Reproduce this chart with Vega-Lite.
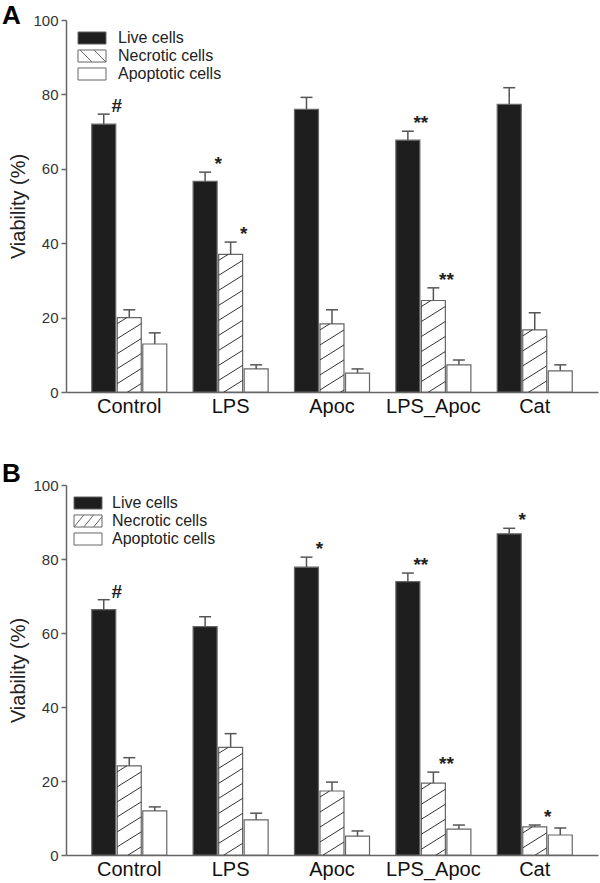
{
  "$schema": "https://vega.github.io/schema/vega-lite/v6.json",
  "background": "white",
  "padding": {"left": 2, "top": 3, "right": 2, "bottom": 5},
  "config": {
    "view": {"stroke": null},
    "font": "Liberation Sans",
    "axis": {"grid": false, "domainColor": "#666", "domainWidth": 1.5, "tickColor": "#666", "tickWidth": 1.5},
    "legend": {"padding": 0, "labelFontSize": 16, "labelColor": "#222", "labelFont": "Liberation Sans", "symbolStrokeColor": "#666", "symbolStrokeWidth": 1, "rowPadding": 0}
  },
  "resolve": {"scale": {"fill": "independent"}, "legend": {"fill": "independent"}},
  "data": {"values": [
    {"panel": "A", "group": "Control", "type": "Live cells", "value": 72.0, "err": 74.7, "sig": "#"},
    {"panel": "A", "group": "Control", "type": "Necrotic cells", "value": 20.0, "err": 22.1, "sig": ""},
    {"panel": "A", "group": "Control", "type": "Apoptotic cells", "value": 12.9, "err": 15.9, "sig": ""},
    {"panel": "A", "group": "LPS", "type": "Live cells", "value": 56.6, "err": 59.1, "sig": "*"},
    {"panel": "A", "group": "LPS", "type": "Necrotic cells", "value": 37.0, "err": 40.3, "sig": "*"},
    {"panel": "A", "group": "LPS", "type": "Apoptotic cells", "value": 6.2, "err": 7.3, "sig": ""},
    {"panel": "A", "group": "Apoc", "type": "Live cells", "value": 76.0, "err": 79.2, "sig": ""},
    {"panel": "A", "group": "Apoc", "type": "Necrotic cells", "value": 18.3, "err": 22.1, "sig": ""},
    {"panel": "A", "group": "Apoc", "type": "Apoptotic cells", "value": 5.1, "err": 6.2, "sig": ""},
    {"panel": "A", "group": "LPS_Apoc", "type": "Live cells", "value": 67.7, "err": 70.1, "sig": "**"},
    {"panel": "A", "group": "LPS_Apoc", "type": "Necrotic cells", "value": 24.6, "err": 28.0, "sig": "**"},
    {"panel": "A", "group": "LPS_Apoc", "type": "Apoptotic cells", "value": 7.3, "err": 8.6, "sig": ""},
    {"panel": "A", "group": "Cat", "type": "Live cells", "value": 77.3, "err": 81.8, "sig": ""},
    {"panel": "A", "group": "Cat", "type": "Necrotic cells", "value": 16.7, "err": 21.3, "sig": ""},
    {"panel": "A", "group": "Cat", "type": "Apoptotic cells", "value": 5.7, "err": 7.3, "sig": ""},
    {"panel": "B", "group": "Control", "type": "Live cells", "value": 66.3, "err": 69.0, "sig": "#"},
    {"panel": "B", "group": "Control", "type": "Necrotic cells", "value": 24.1, "err": 26.3, "sig": ""},
    {"panel": "B", "group": "Control", "type": "Apoptotic cells", "value": 11.9, "err": 13.0, "sig": ""},
    {"panel": "B", "group": "LPS", "type": "Live cells", "value": 61.7, "err": 64.4, "sig": ""},
    {"panel": "B", "group": "LPS", "type": "Necrotic cells", "value": 29.1, "err": 32.8, "sig": ""},
    {"panel": "B", "group": "LPS", "type": "Apoptotic cells", "value": 9.5, "err": 11.3, "sig": ""},
    {"panel": "B", "group": "Apoc", "type": "Live cells", "value": 77.8, "err": 80.5, "sig": "*"},
    {"panel": "B", "group": "Apoc", "type": "Necrotic cells", "value": 17.3, "err": 19.7, "sig": ""},
    {"panel": "B", "group": "Apoc", "type": "Apoptotic cells", "value": 5.1, "err": 6.5, "sig": ""},
    {"panel": "B", "group": "LPS_Apoc", "type": "Live cells", "value": 73.9, "err": 76.2, "sig": "**"},
    {"panel": "B", "group": "LPS_Apoc", "type": "Necrotic cells", "value": 19.4, "err": 22.4, "sig": "**"},
    {"panel": "B", "group": "LPS_Apoc", "type": "Apoptotic cells", "value": 7.0, "err": 8.1, "sig": ""},
    {"panel": "B", "group": "Cat", "type": "Live cells", "value": 86.8, "err": 88.3, "sig": "*"},
    {"panel": "B", "group": "Cat", "type": "Necrotic cells", "value": 7.6, "err": 8.1, "sig": "*"},
    {"panel": "B", "group": "Cat", "type": "Apoptotic cells", "value": 5.4, "err": 7.3, "sig": ""}
  ]},
  "spacing": 45,
  "vconcat": [
    {
      "title": {"text": "A", "anchor": "start", "frame": "group", "orient": "top", "offset": 0, "dx": -64, "dy": 16, "fontSize": 26, "fontWeight": "bold", "color": "#000"},
      "width": 532, "height": 372,
      "transform": [{"filter": "datum.panel === 'A'"}],
      "encoding": {
        "x": {"field": "group", "type": "nominal", "sort": ["Control", "LPS", "Apoc", "LPS_Apoc", "Cat"], "scale": {"paddingInner": 0.26, "paddingOuter": 0.254}, "axis": {"title": null, "ticks": false, "labelAngle": 0, "labelFontSize": 20, "labelColor": "#111", "labelPadding": 4}},
        "xOffset": {"field": "type", "type": "nominal", "scale": {"domain": ["Live cells", "Necrotic cells", "Apoptotic cells"], "paddingInner": 0.06, "paddingOuter": 0}}
      },
      "layer": [
        {
          "mark": {"type": "bar", "stroke": "#666", "strokeWidth": 1.2},
          "encoding": {
            "y": {"field": "value", "type": "quantitative", "scale": {"domain": [0, 100], "nice": false}, "axis": {"title": "Viability (%)", "titleFontSize": 20, "titleFontWeight": "normal", "titleColor": "#222", "titlePadding": 4, "values": [0, 20, 40, 60, 80, 100], "labelFontSize": 15, "labelColor": "#333", "tickSize": 5, "labelPadding": 3}},
            "fill": {"field": "type", "type": "nominal", "scale": {"domain": ["Live cells", "Necrotic cells", "Apoptotic cells"], "range": ["#1e1e1e", "#ffffff", "#ffffff"]},
              "legend": {"title": null, "orient": "none", "legendX": 18, "legendY": 10, "symbolSize": 196, "labelOffset": 18,
                "encode": {"symbols": {"update": {"shape": {"signal": "datum.value === 'Necrotic cells' ? 'M-2,-0.86H2V0.86H-2ZM-1.7,-0.86L0,0.86M0.3,-0.86L2,0.86' : 'M-2,-0.86H2V0.86H-2Z'"}}}}}}
          }
        },
        {
          "transform": [{"filter": "datum.type === 'Necrotic cells'"}],
          "mark": {"type": "point", "shape": "M-1,0.5L-0.2,0M-1,1.75L1,0.5M-1,3L1,1.75M-1,4.25L1,3M-1,5.5L1,4.25M-1,6.75L1,5.5M-1,8L1,6.75M-1,9.25L1,8M-1,10.5L1,9.25M-1,11.75L1,10.5M-1,13L1,11.75M-1,14.25L1,13M-1,15.5L1,14.25M-1,16.75L1,15.5", "size": 576, "filled": false, "stroke": "#333", "strokeWidth": 1, "opacity": 1, "clip": true},
          "encoding": {"y": {"field": "value", "type": "quantitative"}}
        },
        {
          "mark": {"type": "rule", "color": "#555", "strokeWidth": 1.5},
          "encoding": {"y": {"field": "value", "type": "quantitative"}, "y2": {"field": "err"}}
        },
        {
          "mark": {"type": "tick", "orient": "horizontal", "color": "#555", "thickness": 1.5, "size": 12, "opacity": 1},
          "encoding": {"y": {"field": "err", "type": "quantitative"}}
        },
        {
          "mark": {"type": "text", "dx": 13, "dy": -2, "baseline": "alphabetic", "align": "center", "fontSize": 19, "fontWeight": "bold", "color": "#222"},
          "encoding": {"y": {"field": "err", "type": "quantitative"}, "text": {"field": "sig"}}
        }
      ]
    },
    {
      "title": {"text": "B", "anchor": "start", "frame": "group", "orient": "top", "offset": 0, "dx": -64, "dy": 9, "fontSize": 26, "fontWeight": "bold", "color": "#000"},
      "width": 532, "height": 370,
      "transform": [{"filter": "datum.panel === 'B'"}],
      "encoding": {
        "x": {"field": "group", "type": "nominal", "sort": ["Control", "LPS", "Apoc", "LPS_Apoc", "Cat"], "scale": {"paddingInner": 0.26, "paddingOuter": 0.254}, "axis": {"title": null, "ticks": false, "labelAngle": 0, "labelFontSize": 20, "labelColor": "#111", "labelPadding": 4}},
        "xOffset": {"field": "type", "type": "nominal", "scale": {"domain": ["Live cells", "Necrotic cells", "Apoptotic cells"], "paddingInner": 0.06, "paddingOuter": 0}}
      },
      "layer": [
        {
          "mark": {"type": "bar", "stroke": "#666", "strokeWidth": 1.2},
          "encoding": {
            "y": {"field": "value", "type": "quantitative", "scale": {"domain": [0, 100], "nice": false}, "axis": {"title": "Viability (%)", "titleFontSize": 20, "titleFontWeight": "normal", "titleColor": "#222", "titlePadding": 4, "values": [0, 20, 40, 60, 80, 100], "labelFontSize": 15, "labelColor": "#333", "tickSize": 5, "labelPadding": 3}},
            "fill": {"field": "type", "type": "nominal", "scale": {"domain": ["Live cells", "Necrotic cells", "Apoptotic cells"], "range": ["#1e1e1e", "#ffffff", "#ffffff"]},
              "legend": {"title": null, "orient": "none", "legendX": 14, "legendY": 10, "symbolSize": 196, "labelOffset": 16,
                "encode": {"symbols": {"update": {"shape": {"signal": "datum.value === 'Necrotic cells' ? 'M-2,-0.86H2V0.86H-2ZM-2,0.86L-0.6,-0.86M-0.6,0.86L0.8,-0.86M0.8,0.86L2,-0.6' : 'M-2,-0.86H2V0.86H-2Z'"}}}}}}
          }
        },
        {
          "transform": [{"filter": "datum.type === 'Necrotic cells'"}],
          "mark": {"type": "point", "shape": "M-1,0.5L-0.2,0M-1,1.75L1,0.5M-1,3L1,1.75M-1,4.25L1,3M-1,5.5L1,4.25M-1,6.75L1,5.5M-1,8L1,6.75M-1,9.25L1,8M-1,10.5L1,9.25M-1,11.75L1,10.5M-1,13L1,11.75M-1,14.25L1,13M-1,15.5L1,14.25M-1,16.75L1,15.5", "size": 576, "filled": false, "stroke": "#333", "strokeWidth": 1, "opacity": 1, "clip": true},
          "encoding": {"y": {"field": "value", "type": "quantitative"}}
        },
        {
          "mark": {"type": "rule", "color": "#555", "strokeWidth": 1.5},
          "encoding": {"y": {"field": "value", "type": "quantitative"}, "y2": {"field": "err"}}
        },
        {
          "mark": {"type": "tick", "orient": "horizontal", "color": "#555", "thickness": 1.5, "size": 12, "opacity": 1},
          "encoding": {"y": {"field": "err", "type": "quantitative"}}
        },
        {
          "mark": {"type": "text", "dx": 13, "dy": -2, "baseline": "alphabetic", "align": "center", "fontSize": 19, "fontWeight": "bold", "color": "#222"},
          "encoding": {"y": {"field": "err", "type": "quantitative"}, "text": {"field": "sig"}}
        }
      ]
    }
  ]
}
